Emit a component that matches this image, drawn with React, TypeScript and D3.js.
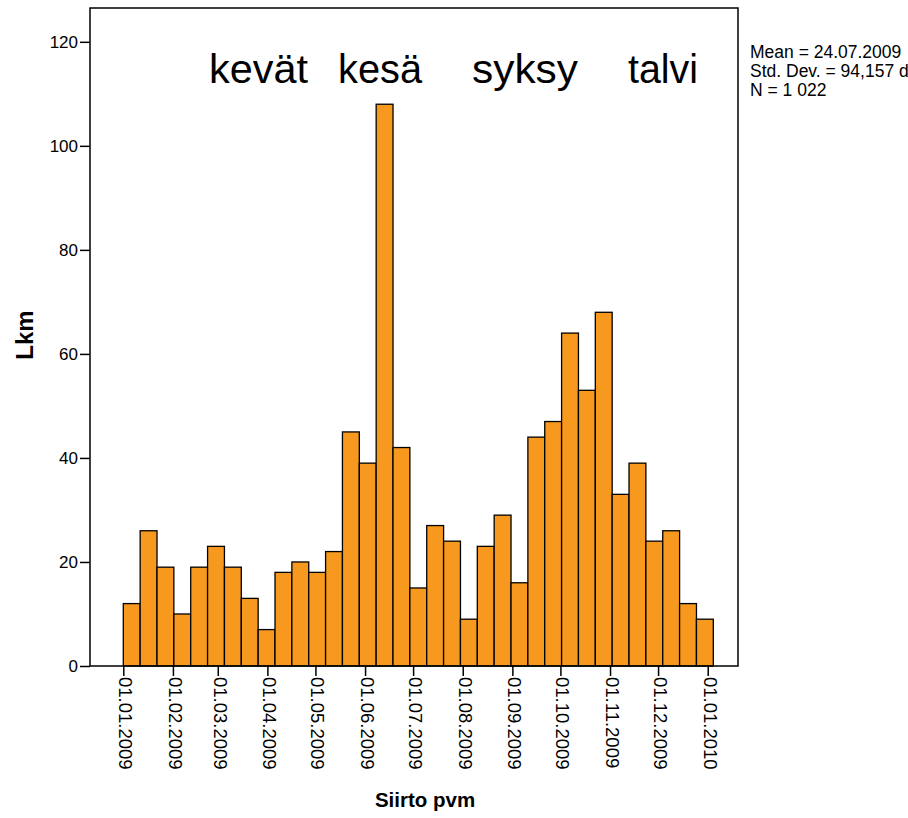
import React, { useEffect, useRef } from 'react';
import * as d3 from 'd3';

// counts per bin (35 bins from 01.01.2009 onwards)
const counts = [12, 26, 19, 10, 19, 23, 19, 13, 7, 18, 20, 18, 22, 45, 39, 108, 42, 15, 27, 24,
  9, 23, 29, 16, 44, 47, 64, 53, 68, 33, 39, 24, 26, 12, 9];
const binStart = new Date(Date.UTC(2009, 0, 1));
const binEnd = new Date(Date.UTC(2010, 0, 4, 12));
const xDomain = [new Date(Date.UTC(2008, 11, 11, 5)), new Date(Date.UTC(2010, 0, 19, 22))];
const yTicks = [0, 20, 40, 60, 80, 100, 120];
const yMax = 126.5;
const seasons = ['kevät', 'kesä', 'syksy', 'talvi'];
const seasonX = [209, 338, 472, 628];
const seasonW = [99, 84, 106, 70];
const stats = ['Mean = 24.07.2009', 'Std. Dev. = 94,157 days', 'N = 1 022'];

const W = 908, H = 818;

export default function App() {
  const ref = useRef<SVGSVGElement>(null);

  useEffect(() => {
    const margin = { left: 90, top: 8, right: 738, bottom: 666 };
    const svg = d3.select(ref.current);
    svg.selectAll('*').remove();
    const font = 'Liberation Sans, Arial, sans-serif';

    const x = d3.scaleUtc().domain(xDomain).range([margin.left, margin.right]);
    const y = d3.scaleLinear().domain([0, yMax]).range([margin.bottom, margin.top]);

    const n = counts.length;
    const t0 = binStart.getTime(), t1 = binEnd.getTime();
    const bins = counts.map((c, i) => ({
      x0: new Date(t0 + (t1 - t0) * i / n),
      x1: new Date(t0 + (t1 - t0) * (i + 1) / n),
      c
    }));

    svg.append('g')
      .selectAll('rect')
      .data(bins)
      .enter()
      .append('rect')
      .attr('x', d => x(d.x0))
      .attr('y', d => y(d.c))
      .attr('width', d => x(d.x1) - x(d.x0))
      .attr('height', d => y(0) - y(d.c))
      .attr('fill', '#F7991F')
      .attr('stroke', '#000')
      .attr('stroke-width', 1.3);

    // frame
    svg.append('rect')
      .attr('x', margin.left)
      .attr('y', margin.top)
      .attr('width', margin.right - margin.left)
      .attr('height', margin.bottom - margin.top)
      .attr('fill', 'none')
      .attr('stroke', '#000')
      .attr('stroke-width', 1.5);

    // y axis
    const yAxis = svg.append('g')
      .attr('transform', 'translate(' + margin.left + ',0)')
      .call(d3.axisLeft(y).tickValues(yTicks).tickSize(10).tickPadding(2));
    yAxis.select('.domain').remove();
    yAxis.selectAll('line').attr('stroke', '#000').attr('stroke-width', 1.5);
    yAxis.selectAll('text')
      .attr('font-family', font)
      .attr('font-size', 17)
      .attr('fill', '#000');

    // x axis
    const months = d3.utcMonth.range(new Date(Date.UTC(2009, 0, 1)), new Date(Date.UTC(2010, 0, 2)));
    const xAxis = svg.append('g')
      .attr('transform', 'translate(0,' + margin.bottom + ')')
      .call(d3.axisBottom(x).tickValues(months).tickSize(10).tickFormat(d3.utcFormat('%d.%m.%Y') as any));
    xAxis.select('.domain').remove();
    xAxis.selectAll('line').attr('stroke', '#000').attr('stroke-width', 1.5);
    xAxis.selectAll('text')
      .attr('font-family', font)
      .attr('font-size', 18.5)
      .attr('fill', '#000')
      .attr('text-anchor', 'start')
      .attr('transform', 'rotate(90)')
      .attr('x', 11)
      .attr('y', 0)
      .attr('dy', '0.25em');

    // axis titles
    svg.append('text')
      .attr('x', 425)
      .attr('y', 807)
      .attr('text-anchor', 'middle')
      .attr('font-family', font)
      .attr('font-weight', 'bold')
      .attr('font-size', 20.5)
      .text('Siirto pvm');

    svg.append('text')
      .attr('transform', 'translate(33,335) rotate(-90)')
      .attr('text-anchor', 'middle')
      .attr('font-family', font)
      .attr('font-weight', 'bold')
      .attr('font-size', 24)
      .text('Lkm');

    // seasons
    svg.append('g')
      .selectAll('text')
      .data(seasons)
      .enter()
      .append('text')
      .attr('x', (d, i) => seasonX[i])
      .attr('y', 83)
      .attr('font-family', font)
      .attr('font-size', 40)
      .attr('textLength', (d, i) => seasonW[i])
      .attr('lengthAdjust', 'spacingAndGlyphs')
      .text(d => d);

    // stats
    svg.append('g')
      .selectAll('text')
      .data(stats)
      .enter()
      .append('text')
      .attr('x', 750)
      .attr('y', (d, i) => 58 + i * 19)
      .attr('font-family', font)
      .attr('font-size', 17.5)
      .text(d => d);
  }, []);

  return (
    <div style={{ position: 'absolute', left: 0, top: 0 }}>
      <svg ref={ref} width={W} height={H} style={{ display: 'block', background: '#fff' }} />
    </div>
  );
}
